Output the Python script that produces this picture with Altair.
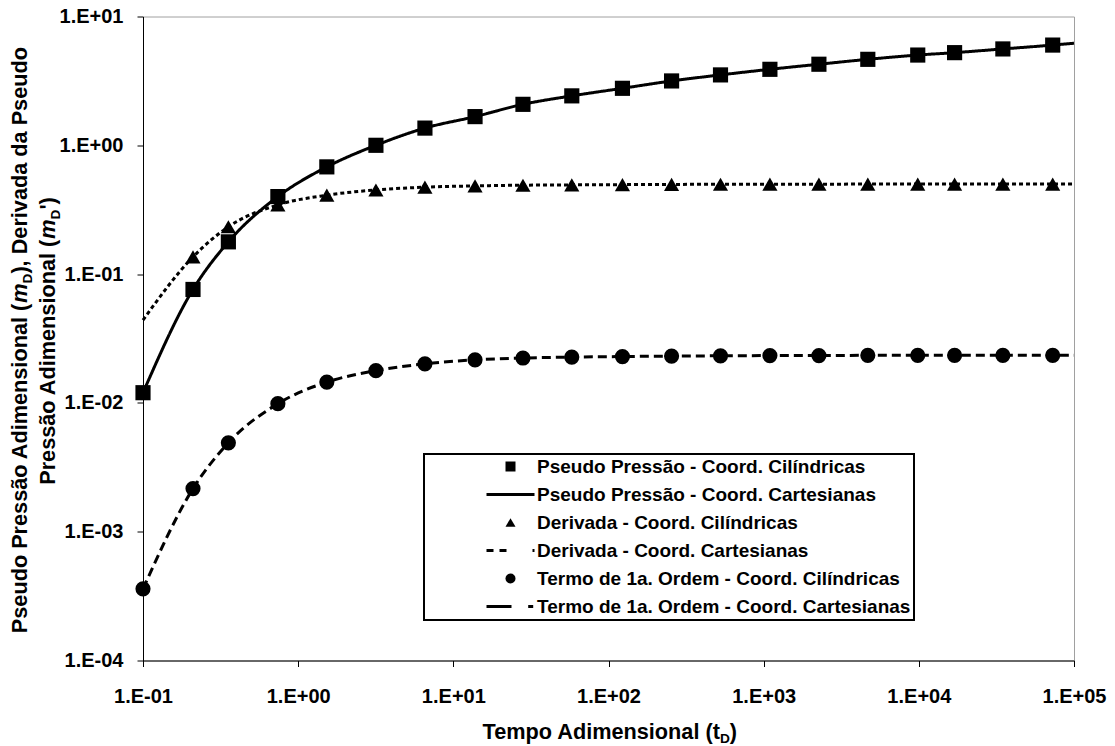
import altair as alt
import pandas as pd

# ---------------- data ----------------
t_markers = [0.1, 0.21, 0.355, 0.74, 1.53, 3.17, 6.56, 13.8, 28.1, 58, 123, 255,
             527, 1097, 2270, 4690, 9840, 17000, 34800, 72900]
pseudo_cyl = [0.012, 0.076, 0.178, 0.40, 0.68, 1.0, 1.36, 1.67, 2.08, 2.42, 2.77,
              3.16, 3.52, 3.89, 4.26, 4.65, 5.02, 5.24, 5.6, 6.0]
deriv_t = [0.21, 0.355, 0.74, 1.53, 3.17, 6.56, 13.8, 28.1, 58, 123, 255,
           527, 1097, 2270, 4690, 9840, 17000, 34800, 72900]
deriv_cyl = [0.136, 0.233, 0.345, 0.41, 0.45, 0.473, 0.484, 0.49, 0.493, 0.495,
             0.497, 0.498, 0.499, 0.499, 0.5, 0.5, 0.5, 0.5, 0.5]
termo_cyl = [0.00036, 0.00216, 0.0049, 0.00986, 0.0145, 0.0178, 0.0201, 0.0216,
             0.0223, 0.0227, 0.0229, 0.0231, 0.0232, 0.0233, 0.0233, 0.0234,
             0.0234, 0.0234, 0.0234, 0.0234]

t_line = [0.1, 0.21, 0.355, 0.74, 1.53, 3.17, 6.56, 13.8, 28.1, 58, 123, 255,
          527, 1097, 2270, 4690, 9840, 17000, 34800, 72900, 100000]
pseudo_cart = [0.012, 0.076, 0.178, 0.40, 0.68, 1.0, 1.36, 1.67, 2.08, 2.42, 2.77,
               3.16, 3.52, 3.89, 4.26, 4.65, 5.02, 5.24, 5.6, 6.0, 6.2]
deriv_cart = [0.044, 0.136, 0.233, 0.345, 0.41, 0.45, 0.473, 0.484, 0.49, 0.493,
              0.495, 0.497, 0.498, 0.499, 0.499, 0.5, 0.5, 0.5, 0.5, 0.5, 0.5]
termo_cart = [0.00036, 0.00216, 0.0049, 0.00986, 0.0145, 0.0178, 0.0201, 0.0216,
              0.0223, 0.0227, 0.0229, 0.0231, 0.0232, 0.0233, 0.0233, 0.0234,
              0.0234, 0.0234, 0.0234, 0.0234, 0.0234]

series_names = [
    "Pseudo Pressão - Coord. Cilíndricas",
    "Pseudo Pressão - Coord. Cartesianas",
    "Derivada - Coord. Cilíndricas",
    "Derivada - Coord. Cartesianas",
    "Termo de 1a. Ordem - Coord. Cilíndricas",
    "Termo de 1a. Ordem - Coord. Cartesianas",
]
x_ticks = [0.1, 1, 10, 100, 1000, 10000, 100000]
y_ticks = [0.0001, 0.001, 0.01, 0.1, 1, 10]

x_title = ["Tempo Adimensional (t", "D", ")"]
y_title1 = ["Pseudo Pressão Adimensional (", "m", "D", "), Derivada da Pseudo"]
y_title2 = ["Pressão Adimensional (", "m", "D", "')"]

# ---------------- tables ----------------
pts = pd.concat([
    pd.DataFrame({"t": t_markers, "m": pseudo_cyl, "s": series_names[0]}),
    pd.DataFrame({"t": deriv_t, "m": deriv_cyl, "s": series_names[2]}),
    pd.DataFrame({"t": t_markers, "m": termo_cyl, "s": series_names[4]}),
])
line_tables = [
    (pd.DataFrame({"t": t_line, "m": pseudo_cart}), [1, 0]),
    (pd.DataFrame({"t": t_line, "m": deriv_cart}), [4, 3]),
    (pd.DataFrame({"t": t_line, "m": termo_cart}), [9, 5]),
]

FONT = "Liberation Sans"
FS_TICK = 20
FS_LEG = 19
FS_TITLE = 21.7
FS_SUB = 13.7
exp_expr = "round(log(datum.value)/LN10)"
label_expr = ("'1.E' + (" + exp_expr + " < 0 ? '-' : '+') + (abs(" + exp_expr +
              ") < 10 ? '0' : '') + abs(" + exp_expr + ")")

x_scale = alt.Scale(type="log", domain=[0.1, 100000], nice=False)
y_scale = alt.Scale(type="log", domain=[0.0001, 10], nice=False)

axis_common = dict(labelExpr=label_expr, tickSize=6, grid=False, title=None,
                   domainColor="black", tickColor="black", labelColor="black",
                   labelFont=FONT, labelFontSize=FS_TICK, labelFontWeight="bold",
                   labelFlush=False, labelOverlap=False, labelBound=False,
                   domainWidth=1, tickWidth=1)
x_axis = alt.Axis(values=x_ticks, labelPadding=20, **axis_common)
y_axis = alt.Axis(values=y_ticks, labelPadding=14, **axis_common)

# legend glyphs for the line series, drawn as filled strips
solid_sym = "M-4.8,-0.3H4.8V0.3H-4.8Z"
dotted_sym = ("M-4.8,-0.3H-3.4V0.3H-4.8Z M-2.2,-0.3H-0.8V0.3H-2.2Z "
              "M4.4,-0.3H4.8V0.3H4.4Z")
dashed_sym = "M-4.8,-0.3H0.2V0.3H-4.8Z M3.54,-0.3H4.54V0.3H3.54Z"

shape_scale = alt.Scale(domain=series_names,
                        range=["square", solid_sym, "triangle-up", dotted_sym,
                               "circle", dashed_sym])

leg = alt.Legend(title=None, orient="none", legendX=281, legendY=437.5)

line_layers = [
    alt.Chart(df).mark_line(color="black", strokeWidth=3, strokeDash=dash,
                            interpolate="monotone").encode(
        x=alt.X("t:Q", scale=x_scale, axis=x_axis),
        y=alt.Y("m:Q", scale=y_scale, axis=y_axis),
    )
    for df, dash in line_tables
]

point_layer = alt.Chart(pts).mark_point(filled=True, color="black", opacity=1,
                                        size=230).encode(
    x=alt.X("t:Q", scale=x_scale, axis=x_axis),
    y=alt.Y("m:Q", scale=y_scale, axis=y_axis),
    shape=alt.Shape("s:N", scale=shape_scale, legend=leg),
)


def txt(s, x, y, align, size=FS_TITLE, angle=0, style="normal"):
    return alt.Chart(pd.DataFrame({"s": [s]})).mark_text(
        font=FONT, fontSize=size, fontWeight="bold", fontStyle=style,
        align=align, baseline="alphabetic", angle=angle, color="black"
    ).encode(text="s:N", x=alt.value(x), y=alt.value(y))


titles = [
    txt(x_title[0], 576.9, 722.3, "right"),
    txt(x_title[1], 576.9, 726.8, "left", size=FS_SUB),
    txt(x_title[2], 586.8, 722.3, "left"),
    # y title line 1
    txt(y_title1[0], -116, 616.7, "left", angle=270),
    txt(y_title1[1], -116, 286.3, "left", angle=270, style="italic"),
    txt(y_title1[2], -111.5, 267.0, "left", size=FS_SUB, angle=270),
    txt(y_title1[3], -116, 257.1, "left", angle=270),
    # y title line 2
    txt(y_title2[0], -88, 468.3, "left", angle=270),
    txt(y_title2[1], -88, 222.3, "left", angle=270, style="italic"),
    txt(y_title2[2], -83.5, 203.0, "left", size=FS_SUB, angle=270),
    txt(y_title2[3], -88, 193.1, "left", angle=270),
]

chart = alt.layer(*line_layers, point_layer, *titles).properties(
    width=931, height=644,
    autosize=alt.AutoSizeParams(type="none"),
    padding={"left": 143, "top": 16.5, "right": 41, "bottom": 85.5},
).configure_view(
    stroke="#a0a0a0", strokeWidth=1
).configure_legend(
    padding=3, strokeColor="black", strokeWidth=2, fillColor="white",
    rowPadding=8, symbolOffset=74, labelOffset=17,
    labelFont=FONT, labelFontSize=FS_LEG, labelFontWeight="bold", labelColor="black",
    labelLimit=800, symbolStrokeColor="black", symbolFillColor="black",
    symbolStrokeWidth=0, symbolOpacity=1,
)

chart.save("out.html", embed_options={"renderer": "svg", "actions": False})
